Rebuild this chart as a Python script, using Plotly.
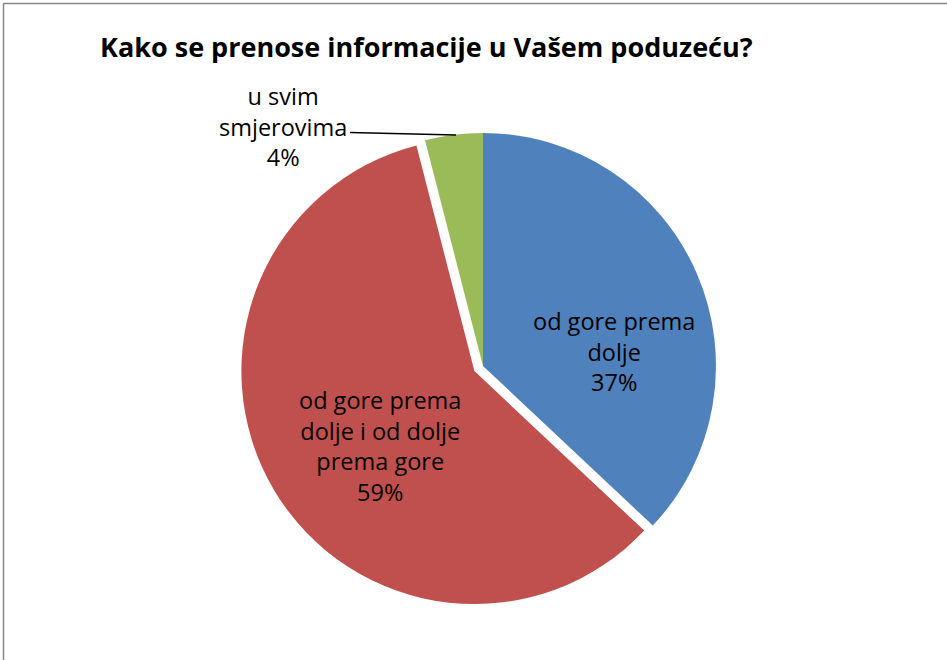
import plotly.graph_objects as go

labels = ["od gore prema<br>dolje", "od gore prema<br>dolje i od dolje<br>prema gore", "u svim<br>smjerovima"]
values = [37, 59, 4]
colors = ["#4F81BD", "#C0504D", "#9BBB59"]
pulls = [0, 0.043, 0]
title_text = "Kako se prenose informacije u Vašem poduzeću?"

W, H = 947, 660
FONT = "Open Sans"

fig = go.Figure(go.Pie(
    labels=labels,
    values=values,
    marker=dict(colors=colors, line=dict(width=0)),
    pull=pulls,
    sort=False,
    direction="clockwise",
    rotation=0,
    textinfo="none",
    hoverinfo="label+percent",
    showlegend=False,
    domain=dict(x=[240 / W, 726 / W], y=[51 / H, 537 / H]),
))

total = sum(values)
label_pos = [(614, 351), (380, 446), (283, 126)]
annotations = []
for lab, v, (px, py) in zip(labels, values, label_pos):
    annotations.append(dict(
        text=f"{lab}<br>{round(100 * v / total)}%",
        x=px / W, y=1 - py / H, xref="paper", yref="paper",
        xanchor="center", yanchor="middle", showarrow=False,
        font=dict(family=FONT, size=23.5, color="#000000"),
    ))
annotations.append(dict(
    text=f"<b>{title_text}</b>",
    x=426.5 / W, y=1 - 46 / H, xref="paper", yref="paper",
    xanchor="center", yanchor="middle", showarrow=False,
    font=dict(family=FONT, size=27, color="#000000"),
))

shapes = [
    dict(type="line", xref="paper", yref="paper",
         x0=350 / W, y0=1 - 132.5 / H, x1=456 / W, y1=1 - 135 / H,
         line=dict(color="#000000", width=1.5)),
    dict(type="line", xref="paper", yref="paper",
         x0=3.5 / W, y0=1 - 3.5 / H, x1=1.02, y1=1 - 3.5 / H,
         line=dict(color="#878787", width=1.5)),
    dict(type="line", xref="paper", yref="paper",
         x0=3.5 / W, y0=1 - 3.5 / H, x1=3.5 / W, y1=-0.02,
         line=dict(color="#878787", width=1.5)),
]

fig.update_layout(
    width=W, height=H,
    margin=dict(l=0, r=0, t=0, b=0),
    paper_bgcolor="#FFFFFF",
    plot_bgcolor="#FFFFFF",
    annotations=annotations,
    shapes=shapes,
    font=dict(family=FONT),
)

fig.write_html("out.html", config={"displayModeBar": False},
               post_script="document.body.style.margin='0';")
